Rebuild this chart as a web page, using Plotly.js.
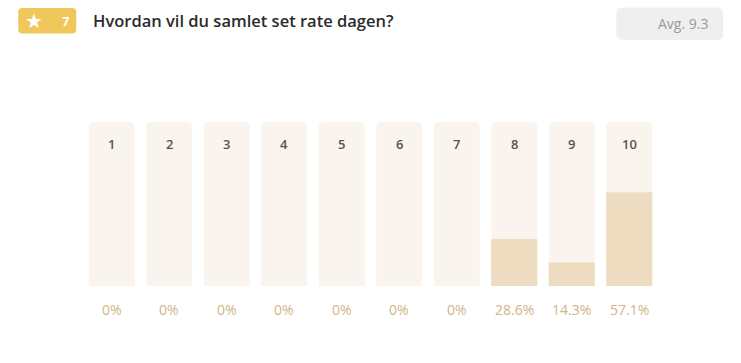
<!DOCTYPE html>
<html>
<head>
<meta charset="utf-8">
<script src="https://cdn.plot.ly/plotly-3.0.1.min.js"></script>
<style>
html,body{margin:0;padding:0;background:#fff;}
#chart{width:741px;height:363px;}
</style>
</head>
<body>
<div id="chart"></div>
<script>
// Data
const categories = ['1','2','3','4','5','6','7','8','9','10'];
const percentages = [0, 0, 0, 0, 0, 0, 0, 28.6, 14.3, 57.1];
const pctLabels = ['0%','0%','0%','0%','0%','0%','0%','28.6%','14.3%','57.1%'];
const fullScale = categories.map(() => 100);
const titleText = 'Hvordan vil du samlet set rate dagen?';
const responseCount = '7';
const avgText = 'Avg. 9.3';

const W = 741, H = 363;
const mL = 82.75, mR = 83.25, mT = 121.5, mB = 77;

function rr(x0, y0, x1, y1, r) {
  const ax = mL, ay = mT;
  const X = v => (v - ax).toFixed(2);
  const Y = v => (ay - v).toFixed(2);
  return 'M' + X(x0 + r) + ',' + Y(y0) +
    ' L' + X(x1 - r) + ',' + Y(y0) +
    ' Q' + X(x1) + ',' + Y(y0) + ' ' + X(x1) + ',' + Y(y0 + r) +
    ' L' + X(x1) + ',' + Y(y1 - r) +
    ' Q' + X(x1) + ',' + Y(y1) + ' ' + X(x1 - r) + ',' + Y(y1) +
    ' L' + X(x0 + r) + ',' + Y(y1) +
    ' Q' + X(x0) + ',' + Y(y1) + ' ' + X(x0) + ',' + Y(y1 - r) +
    ' L' + X(x0) + ',' + Y(y0 + r) +
    ' Q' + X(x0) + ',' + Y(y0) + ' ' + X(x0 + r) + ',' + Y(y0) + ' Z';
}
function pxShape(path, color) {
  return {type:'path', xref:'paper', yref:'paper', xsizemode:'pixel', ysizemode:'pixel',
    xanchor:0, yanchor:1, path:path, fillcolor:color, line:{width:0}, layer:'above'};
}
function pxAnn(text, x, y, opts) {
  return Object.assign({xref:'paper', yref:'paper', x:0, y:1, xshift:x - mL, yshift:mT - y,
    text:text, showarrow:false, xanchor:'left', yanchor:'middle'}, opts);
}

const font = '"Open Sans", "Segoe UI", sans-serif';

const traces = [
  {type:'bar', x:categories, y:fullScale, marker:{color:'#faf4ee', cornerradius:5},
   hoverinfo:'skip'},
  {type:'bar', x:categories, y:percentages, marker:{color:'#eddcc0', cornerradius:3},
   hoverinfo:'skip'}
];

const annotations = [];
categories.forEach((c, i) => {
  annotations.push({x:i, y:100, xref:'x', yref:'y', yshift:-22, text:c, showarrow:false,
    yanchor:'middle', font:{family:font, size:13, color:'#5f5049', weight:600}});
  annotations.push({x:i, y:0, xref:'x', yref:'y', yshift:-23, text:pctLabels[i], showarrow:false,
    yanchor:'middle', font:{family:font, size:14, color:'#d2b488'}});
});
annotations.push(pxAnn('★', 23, 20, {font:{family:'DejaVu Sans', size:20, color:'#ffffff'}}));
annotations.push(pxAnn(responseCount, 60, 20.5, {font:{family:font, size:13, color:'#ffffff', weight:700}}));
annotations.push(pxAnn(titleText, 91, 20, {font:{family:font, size:16.5, color:'#2b2b2b', weight:600}}));
annotations.push(pxAnn(avgText, 710, 23, {xanchor:'right', font:{family:font, size:14, color:'#9a9a9a'}}));

const shapes = [
  pxShape(rr(18, 7.5, 76, 33, 4), '#f0c75a'),
  pxShape(rr(616, 7, 723, 39.5, 7), '#efefef')
];

const layout = {
  width:W, height:H,
  margin:{l:mL, r:mR, t:mT, b:mB, pad:0},
  paper_bgcolor:'#ffffff', plot_bgcolor:'#ffffff',
  barmode:'overlay', bargap:0.2,
  showlegend:false,
  xaxis:{type:'category', range:[-0.5, 9.5], showgrid:false, zeroline:false, showline:false,
    showticklabels:false, ticks:'', fixedrange:true},
  yaxis:{range:[0, 100], showgrid:false, zeroline:false, showline:false,
    showticklabels:false, ticks:'', fixedrange:true},
  annotations:annotations,
  shapes:shapes,
  font:{family:font}
};

Plotly.newPlot('chart', traces, layout, {displayModeBar:false, staticPlot:true});
</script>
</body>
</html>
